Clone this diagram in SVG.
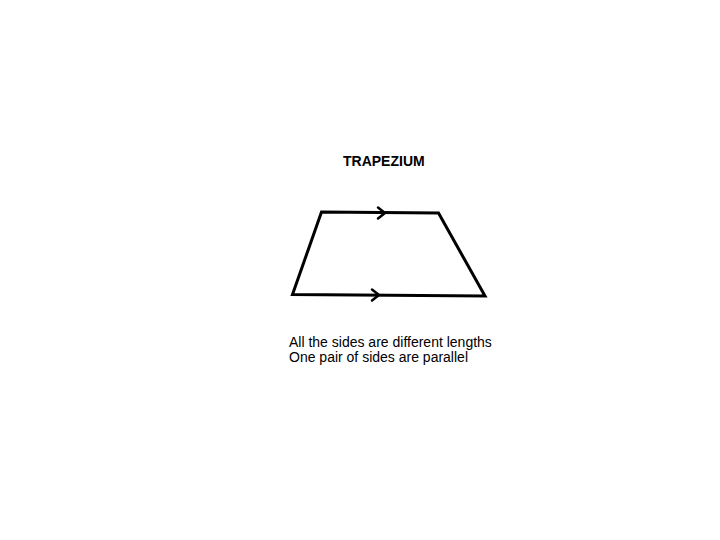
<svg xmlns="http://www.w3.org/2000/svg" width="720" height="540" viewBox="0 0 720 540">
<style>
.t{font-family:"Liberation Sans",Arial,sans-serif;fill:#000}
.shape{fill:none;stroke:#000;stroke-width:3;stroke-linejoin:miter}
.chev{fill:none;stroke:#000;stroke-width:2.5;stroke-linecap:round;stroke-linejoin:round}
</style>
<rect width="720" height="540" fill="#fff"/>
<g id="title"><text class="t" x="343" y="166" font-size="14" font-weight="bold">TRAPEZIUM</text></g>
<g id="trapezium">
<polygon class="shape" points="321.5,212 438.5,213 485,296 292.5,294.5"/>
</g>
<g id="connectors">
<polyline class="chev" points="378,207.5 385,213 378,218.5"/>
<polyline class="chev" points="372,289.5 379,295 372,300.5"/>
</g>
<g id="caption">
<text class="t" x="289" y="347" font-size="14">All the sides are different lengths</text>
<text class="t" x="289" y="362" font-size="14">One pair of sides are parallel</text>
</g>
</svg>
